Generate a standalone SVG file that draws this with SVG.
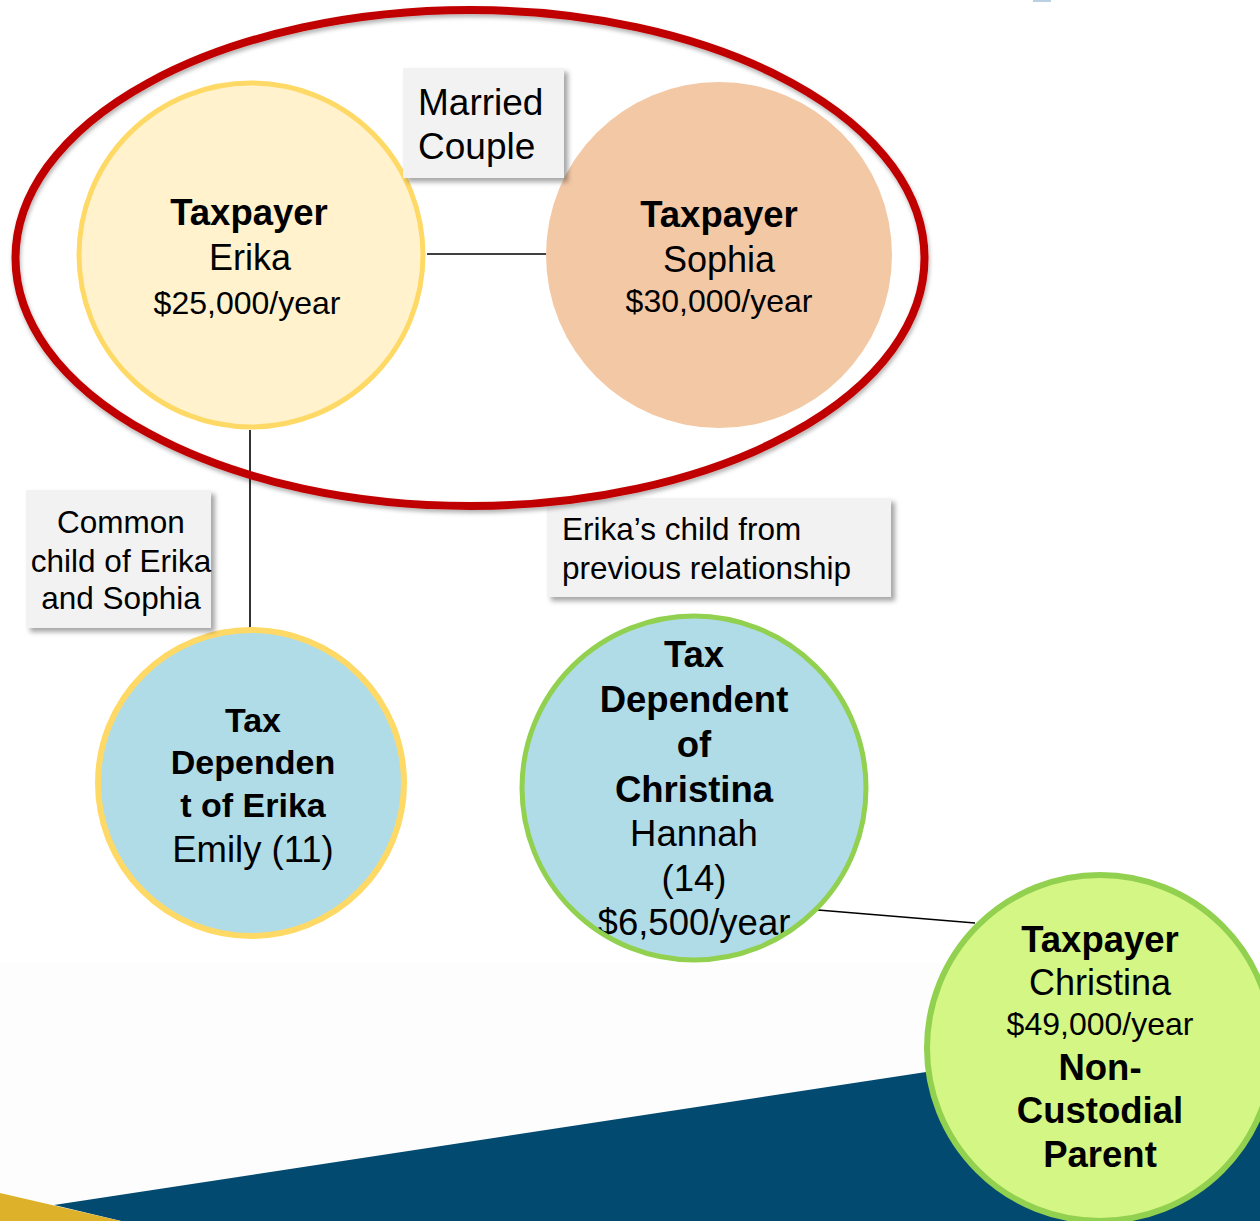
<svg xmlns="http://www.w3.org/2000/svg" width="1260" height="1221" viewBox="0 0 1260 1221">
<defs>
<filter id="sh" x="-10%" y="-10%" width="130%" height="130%">
<feDropShadow dx="4" dy="4" stdDeviation="2.5" flood-color="#000" flood-opacity="0.35"/>
</filter>
<filter id="esh" x="-5%" y="-5%" width="110%" height="112%">
<feDropShadow dx="1" dy="3" stdDeviation="2" flood-color="#000" flood-opacity="0.3"/>
</filter>
</defs>
<style>
text{font-family:"Liberation Sans",Arial,sans-serif;fill:#000}
.c{text-anchor:middle}
.b{font-weight:bold}
.lbl{fill:#F2F2F2;filter:url(#sh)}
.conn{stroke:#000;stroke-width:1.6;fill:none}
</style>
<rect x="0" y="0" width="1260" height="1221" fill="#FFFFFF"/>
<rect x="0" y="963" width="1260" height="258" fill="#FDFDFD"/>
<rect x="1033" y="0" width="18" height="2" fill="#BBD0E2"/>
<polygon points="54,1205 1260,1021 1260,1221 121,1221" fill="#034A70"/>
<polygon points="0,1193 121,1221 0,1221" fill="#DDB22A"/>

<g id="connectors">
<line class="conn" x1="427" y1="254" x2="546" y2="254"/>
<line class="conn" x1="250" y1="430" x2="250" y2="628"/>
<line class="conn" x1="818" y1="910" x2="975" y2="923"/>
</g>

<g id="erika">
<circle cx="251" cy="255" r="172" fill="#FFF2CC" stroke="#FFD966" stroke-width="5"/>
<text class="c b" x="249" y="225" font-size="36.5">Taxpayer</text>
<text class="c" x="250" y="270" font-size="36">Erika</text>
<text class="c" x="247" y="314" font-size="32">$25,000/year</text>
</g>

<g id="sophia">
<circle cx="719" cy="255" r="173" fill="#F3C8A5"/>
<text class="c b" x="719" y="227" font-size="36.5">Taxpayer</text>
<text class="c" x="719" y="272" font-size="36">Sophia</text>
<text class="c" x="719" y="312" font-size="32">$30,000/year</text>
</g>

<g id="emily">
<circle cx="251" cy="783" r="153" fill="#B0DCE8" stroke="#FFD966" stroke-width="6"/>
<text class="c b" x="253" y="732" font-size="34">Tax</text>
<text class="c b" x="253" y="774" font-size="34">Dependen</text>
<text class="c b" x="253" y="817" font-size="34">t of Erika</text>
<text class="c" x="253" y="862" font-size="36.5">Emily (11)</text>
</g>

<g id="hannah">
<circle cx="694" cy="788" r="172" fill="#B0DCE8"/>
<text class="c b" x="694" y="667" font-size="36.5">Tax</text>
<text class="c b" x="694" y="712" font-size="36.5">Dependent</text>
<text class="c b" x="694" y="757" font-size="36.5">of</text>
<text class="c b" x="694" y="802" font-size="36.5">Christina</text>
<text class="c" x="694" y="846" font-size="36.5">Hannah</text>
<text class="c" x="694" y="891" font-size="36.5">(14)</text>
<text class="c" x="694" y="935" font-size="36.5">$6,500/year</text>
<circle cx="694" cy="788" r="172" fill="none" stroke="#92D050" stroke-width="5"/>
</g>

<g id="christina">
<circle cx="1100" cy="1048" r="173" fill="#D4F684" stroke="#92D050" stroke-width="6"/>
<text class="c b" x="1100" y="952" font-size="36.5">Taxpayer</text>
<text class="c" x="1100" y="995" font-size="36">Christina</text>
<text class="c" x="1100" y="1035" font-size="32">$49,000/year</text>
<text class="c b" x="1100" y="1080" font-size="36.5">Non-</text>
<text class="c b" x="1100" y="1123" font-size="36.5">Custodial</text>
<text class="c b" x="1100" y="1167" font-size="36.5">Parent</text>
</g>

<g id="label-married">
<rect class="lbl" x="403" y="68" width="161" height="110"/>
<text x="418" y="115" font-size="37">Married</text>
<text x="418" y="159" font-size="37">Couple</text>
</g>

<g id="label-common">
<rect class="lbl" x="26" y="490" width="185" height="138"/>
<text class="c" x="121" y="533" font-size="31.5">Common</text>
<text class="c" x="121" y="572" font-size="31.5">child of Erika</text>
<text class="c" x="121" y="609" font-size="31.5">and Sophia</text>
</g>

<g id="label-previous">
<rect class="lbl" x="547" y="498" width="344" height="99"/>
<text x="562" y="540" font-size="31.5">Erika’s child from</text>
<text x="562" y="579" font-size="31.5">previous relationship</text>
</g>

<g id="married-group">
<ellipse cx="470" cy="258" rx="454.5" ry="248" fill="none" stroke="#C00000" stroke-width="8" filter="url(#esh)"/>
</g>
</svg>
